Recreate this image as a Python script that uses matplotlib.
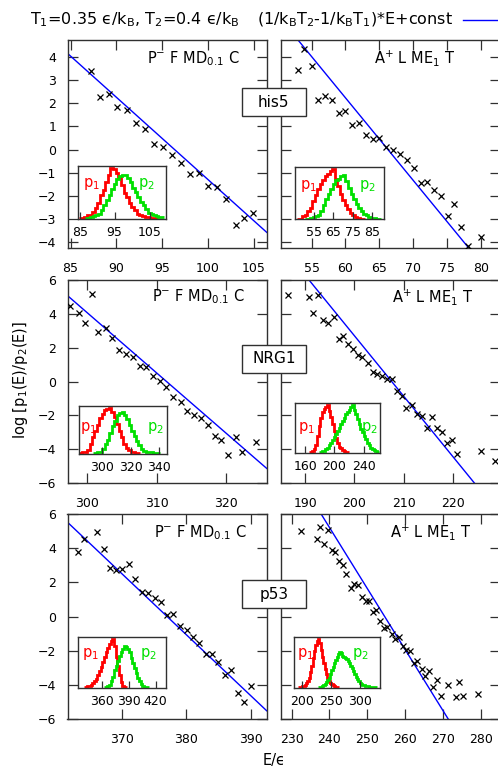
import matplotlib
matplotlib.use("Agg")
import matplotlib.pyplot as plt
import numpy as np
from matplotlib.lines import Line2D
from matplotlib.patches import Rectangle

W, H = 498, 770
plt.rcParams['font.family'] = ['DejaVu Sans']
plt.rcParams['font.size'] = 9
plt.rcParams['mathtext.fontset'] = 'dejavusans'

# ---------------- data ----------------
T1, T2 = 0.35, 0.4
slope = 1.0 / T2 - 1.0 / T1

proteins = ["his5", "NRG1", "p53"]
label_left = r"P$^{-}$ F MD$_{0.1}$ C"
label_right = r"A$^{+}$ L ME$_{1}$ T"

# fit constants (y = slope*E + const)
fit_const = [34.41, 23.67, 111.22, 74.14, 134.66, 90.93]

# scatter: log(p1/p2) vs E
tl_E = [87.2, 88.2, 89.2, 90.1, 91.15, 92.1, 93.1, 94.1, 95.1, 96.05, 97.0, 98.0, 99.0, 100.0, 101.0, 102.0, 103.0, 103.9, 104.9]
tl_y = [3.40, 2.29, 2.39, 1.84, 1.71, 1.14, 0.91, 0.23, 0.09, -0.23, -0.58, -1.06, -1.02, -1.57, -1.61, -2.14, -3.29, -2.95, -2.76]

tr_E = [53.0, 53.9, 55.0, 56.0, 57.0, 58.0, 59.0, 60.0, 61.0, 62.0, 63.0, 64.0, 65.0, 66.0, 67.0, 68.1, 69.1, 70.1, 71.1, 72.1, 73.1, 74.1, 75.1, 76.1, 77.1, 78.1, 80.05]
tr_y = [3.45, 4.36, 3.64, 2.16, 2.30, 2.14, 1.58, 1.67, 1.07, 1.17, 0.61, 0.46, 0.51, 0.09, 0.0, -0.20, -0.45, -0.78, -1.43, -1.41, -1.77, -2.00, -2.88, -2.35, -3.36, -4.19, -3.80]

ml_E = [297.6, 298.8, 299.7, 300.7, 301.6, 302.7, 303.6, 304.6, 305.6, 306.6, 307.6, 308.5, 309.5, 310.5, 311.4, 312.4, 313.5, 314.4, 315.4, 316.4, 317.4, 318.4, 319.3, 320.3, 321.4, 322.3, 324.3]
ml_y = [4.47, 4.07, 3.43, 5.16, 2.95, 3.19, 2.60, 1.87, 1.61, 1.42, 0.89, 0.87, 0.31, 0.04, -0.31, -0.94, -1.20, -1.77, -1.99, -2.17, -2.58, -3.21, -3.46, -4.33, -3.31, -4.15, -3.56]

mr_E = [186.6, 190.7, 191.7, 192.7, 193.7, 194.7, 195.8, 196.8, 197.7, 198.8, 199.7, 200.7, 201.5, 202.7, 203.7, 204.7, 205.6, 206.6, 207.7, 208.6, 209.6, 210.6, 211.7, 212.7, 213.7, 214.7, 215.8, 216.7, 217.8, 218.8, 219.8, 220.8, 225.7, 228.6]
mr_y = [5.10, 5.00, 4.02, 5.12, 3.62, 3.44, 3.82, 2.50, 2.70, 2.24, 1.91, 1.57, 1.46, 1.12, 0.59, 0.47, 0.30, 0.14, 0.14, -0.59, -0.85, -1.57, -1.38, -1.93, -2.03, -2.72, -2.07, -2.76, -3.01, -3.66, -3.46, -4.29, -4.09, -4.69]

bl_E = [363.2, 364.2, 366.1, 367.2, 368.2, 369.1, 370.1, 371.1, 372.1, 373.1, 374.1, 375.1, 376.1, 377.1, 378.0, 379.0, 380.1, 381.0, 382.0, 383.1, 384.0, 385.0, 386.0, 386.95, 388.0, 389.0, 390.05]
bl_y = [3.78, 4.53, 4.96, 3.98, 2.83, 2.74, 2.80, 3.09, 2.20, 1.46, 1.36, 1.06, 0.83, 0.08, 0.14, -0.55, -0.81, -1.18, -1.57, -2.19, -2.19, -2.68, -3.44, -3.11, -4.45, -4.98, -4.09]

br_E = [232.6, 236.6, 237.5, 238.6, 239.5, 240.6, 241.6, 242.5, 243.5, 244.5, 245.6, 246.6, 247.5, 248.7, 249.7, 250.5, 251.4, 252.3, 253.4, 254.5, 255.3, 256.5, 257.3, 258.5, 259.4, 260.2, 261.3, 262.4, 263.2, 264.4, 265.3, 266.4, 267.3, 268.4, 269.4, 271.4, 273.4, 274.3, 275.2, 279.4]
br_y = [5.00, 4.51, 5.22, 4.23, 5.06, 3.88, 3.78, 3.23, 3.03, 2.46, 1.67, 1.91, 1.85, 1.16, 0.89, 0.93, 0.24, 0.37, -0.26, -0.69, -0.61, -1.00, -1.34, -1.20, -1.73, -1.99, -2.03, -2.72, -2.62, -3.05, -3.50, -3.17, -4.11, -3.70, -4.65, -4.00, -4.72, -3.86, -4.65, -4.55]

# histograms (inset): start energy, bin width, relative heights
tl_p1_start, tl_p1_w = 84.8, 0.75
tl_p1 = [0, 0, 0.02, 0.05, 0.05, 0.12, 0.2, 0.3, 0.45, 0.55, 0.72, 0.85, 1.0, 0.98, 0.9, 0.82, 0.65, 0.5, 0.42, 0.3, 0.22, 0.15, 0.08, 0.06, 0.03, 0.02, 0.01, 0, 0, 0]
tl_p2_start, tl_p2_w = 86.5, 0.75
tl_p2 = [0, 0, 0.02, 0.03, 0.05, 0.08, 0.15, 0.25, 0.35, 0.45, 0.58, 0.68, 0.78, 0.83, 0.86, 0.86, 0.8, 0.72, 0.6, 0.52, 0.42, 0.32, 0.25, 0.17, 0.1, 0.07, 0.05, 0.03, 0.02, 0.01]

tr_p1_start, tr_p1_w = 46.4, 1.29
tr_p1 = [0, 0, 0.05, 0.08, 0.15, 0.22, 0.35, 0.48, 0.6, 0.7, 0.78, 0.85, 0.9, 0.95, 1.0, 0.8, 0.65, 0.5, 0.38, 0.28, 0.2, 0.12, 0.07, 0.04, 0.02, 0, 0]
tr_p2_start, tr_p2_w = 50.7, 1.29
tr_p2 = [0, 0, 0.02, 0.03, 0.05, 0.08, 0.15, 0.28, 0.4, 0.5, 0.6, 0.7, 0.78, 0.8, 0.86, 0.88, 0.75, 0.62, 0.5, 0.4, 0.3, 0.22, 0.15, 0.1, 0.07, 0.04, 0.02, 0.01, 0, 0]

ml_p1_start, ml_p1_w = 282.5, 1.7
ml_p1 = [0, 0, 0.02, 0.04, 0.08, 0.2, 0.35, 0.5, 0.62, 0.78, 0.88, 0.95, 0.98, 1.0, 0.92, 0.8, 0.65, 0.5, 0.35, 0.2, 0.12, 0.07, 0.04, 0.02, 0, 0]
ml_p2_start, ml_p2_w = 293.1, 1.7
ml_p2 = [0, 0, 0.02, 0.04, 0.1, 0.2, 0.3, 0.45, 0.6, 0.72, 0.85, 0.9, 0.92, 0.85, 0.75, 0.62, 0.5, 0.38, 0.28, 0.18, 0.1, 0.06, 0.04, 0.02, 0.02, 0.01, 0, 0]

mr_p1_start, mr_p1_w = 164.5, 2.29
mr_p1 = [0, 0, 0.03, 0.06, 0.15, 0.35, 0.55, 0.72, 0.85, 0.92, 0.95, 1.0, 0.88, 0.75, 0.6, 0.45, 0.3, 0.2, 0.12, 0.08, 0.04, 0.02, 0, 0]
mr_p2_start, mr_p2_w = 178.3, 2.29
mr_p2 = [0, 0, 0.02, 0.03, 0.06, 0.1, 0.15, 0.2, 0.26, 0.32, 0.38, 0.45, 0.52, 0.6, 0.66, 0.72, 0.8, 0.85, 0.9, 0.95, 1.0, 0.9, 0.8, 0.7, 0.6, 0.5, 0.42, 0.34, 0.27, 0.2, 0.15, 0.1, 0.06, 0.04, 0.02, 0.01]

bl_p1_start, bl_p1_w = 339.4, 1.87
bl_p1 = [0, 0, 0.02, 0.03, 0.05, 0.08, 0.12, 0.18, 0.25, 0.33, 0.42, 0.52, 0.62, 0.72, 0.82, 0.9, 0.96, 1.0, 0.85, 0.62, 0.45, 0.25, 0.1, 0.03, 0, 0]
bl_p2_start, bl_p2_w = 361.9, 1.87
bl_p2 = [0, 0, 0.02, 0.05, 0.12, 0.22, 0.35, 0.45, 0.55, 0.65, 0.72, 0.8, 0.85, 0.83, 0.8, 0.72, 0.6, 0.5, 0.4, 0.3, 0.2, 0.12, 0.07, 0.03, 0.01, 0, 0]

br_p1_start, br_p1_w = 193.4, 2.3
br_p1 = [0, 0, 0.01, 0.02, 0.03, 0.05, 0.08, 0.12, 0.2, 0.32, 0.45, 0.6, 0.75, 0.88, 0.95, 1.0, 0.92, 0.78, 0.62, 0.5, 0.38, 0.28, 0.2, 0.14, 0.09, 0.06, 0.04, 0.02, 0.01, 0, 0]
br_p2_start, br_p2_w = 228.0, 2.3
br_p2 = [0, 0, 0.01, 0.02, 0.04, 0.07, 0.1, 0.15, 0.2, 0.27, 0.35, 0.42, 0.5, 0.57, 0.63, 0.68, 0.72, 0.7, 0.65, 0.62, 0.6, 0.58, 0.55, 0.5, 0.45, 0.4, 0.34, 0.28, 0.22, 0.17, 0.12, 0.09, 0.07, 0.05, 0.04, 0.03, 0.02, 0.02, 0.01, 0.01, 0.01, 0.01, 0, 0]

# axis setup
xlims = [(84.67, 106.4), (50.46, 82.86), (297.2, 325.8), (185.1, 229.6), (361.6, 392.5), (227.2, 285.1)]
ylims = [(-4.27, 4.75), (-4.27, 4.75), (-6, 6), (-6, 6), (-6, 6), (-6, 6)]
xticks = [[85, 90, 95, 100, 105], [55, 60, 65, 70, 75, 80], [300, 310, 320],
          [190, 200, 210, 220], [370, 380, 390], [230, 240, 250, 260, 270, 280]]
yticks = [list(range(-4, 5)), list(range(-4, 5)), list(range(-6, 7, 2)), list(range(-6, 7, 2)),
          list(range(-6, 7, 2)), list(range(-6, 7, 2))]
inset_xlims = [(84.5, 109.6), (45.2, 91.0), (283.5, 345.4), (145.4, 262.9), (332.7, 431.2), (186.9, 334.3)]
inset_xticks = [[85, 95, 105], [55, 65, 75, 85], [300, 320, 340], [160, 200, 240], [360, 390, 420], [200, 250, 300]]

scatter_E = [tl_E, tr_E, ml_E, mr_E, bl_E, br_E]
scatter_y = [tl_y, tr_y, ml_y, mr_y, bl_y, br_y]
hist_p1 = [(tl_p1_start, tl_p1_w, tl_p1), (tr_p1_start, tr_p1_w, tr_p1), (ml_p1_start, ml_p1_w, ml_p1),
           (mr_p1_start, mr_p1_w, mr_p1), (bl_p1_start, bl_p1_w, bl_p1), (br_p1_start, br_p1_w, br_p1)]
hist_p2 = [(tl_p2_start, tl_p2_w, tl_p2), (tr_p2_start, tr_p2_w, tr_p2), (ml_p2_start, ml_p2_w, ml_p2),
           (mr_p2_start, mr_p2_w, mr_p2), (bl_p2_start, bl_p2_w, bl_p2), (br_p2_start, br_p2_w, br_p2)]

# ---------------- layout (pixel boxes) ----------------
main_boxes = [(67.5, 40, 266.7, 248), (281, 40, 500, 248),
              (67.5, 280, 266.7, 483), (281, 280, 500, 483),
              (67.5, 514, 266.7, 719), (281, 514, 500, 719)]
inset_boxes = [(78, 166, 165.7, 218.7), (294.7, 167, 383.7, 219.3),
               (79, 406.3, 166.7, 454), (294.7, 403, 380.3, 453),
               (78, 637, 165.7, 688), (294, 637, 380, 688)]
p_label_pos = [((0.15, 0.66), (0.775, 0.66)), ((0.15, 0.64), (0.82, 0.64)),
               ((0.11, 0.55), (0.87, 0.55)), ((0.14, 0.5), (0.87, 0.5)),
               ((0.14, 0.67), (0.80, 0.67)), ((0.13, 0.67), (0.77, 0.67))]
panel_label_pos = [(239.5, 58.5), (455, 58.5), (245, 297), (473, 297), (246.7, 532.5), (471.7, 532)]
name_box_rows = [(88.3, 116), (345, 372.7), (580, 608)]

RED = '#ff0000'
GREEN = '#00e000'
BLUE = '#0000ff'
SPINE = '#303030'

fig = plt.figure(figsize=(W / 100, H / 100), dpi=100)


def frac(b):
    x0, y0, x1, y1 = b
    return [x0 / W, 1 - y1 / H, (x1 - x0) / W, (y1 - y0) / H]


for i in range(6):
    ax = fig.add_axes(frac(main_boxes[i]))
    ax.set_xlim(*xlims[i])
    ax.set_ylim(*ylims[i])
    ax.set_xticks(xticks[i])
    ax.set_yticks(yticks[i])
    ax.tick_params(direction='in', length=7, width=0.9, color=SPINE,
                   top=True, right=True, labelsize=9)
    ax.tick_params(axis='x', pad=10)
    ax.tick_params(axis='y', pad=8)
    if i % 2 == 1:
        ax.set_yticklabels([])
    for s in ax.spines.values():
        s.set_color(SPINE)
        s.set_linewidth(1.0)
    ax.axline((0, fit_const[i]), slope=slope, color=BLUE, lw=1.0, zorder=2)
    ax.plot(scatter_E[i], scatter_y[i], ls='none', marker='x', ms=4.5, mew=0.9,
            color='black', zorder=3)

    # inset
    ia = fig.add_axes(frac(inset_boxes[i]))
    ia.set_facecolor('white')
    for (start, w, h), col in ((hist_p1[i], RED), (hist_p2[i], GREEN)):
        h = np.asarray(h, dtype=float)
        edges = start + w * np.arange(len(h) + 1)
        ia.stairs(h, edges, color=col, lw=2.0, baseline=None)
    ia.set_xlim(*inset_xlims[i])
    ia.set_ylim(-0.015, 1.04)
    ia.set_xticks(inset_xticks[i])
    ia.set_yticks([])
    ia.tick_params(axis='x', direction='in', length=5, width=0.9, color=SPINE,
                   pad=5, labelsize=9)
    for s in ia.spines.values():
        s.set_color(SPINE)
        s.set_linewidth(1.0)
    (p1x, p1y), (p2x, p2y) = p_label_pos[i]
    ia.text(p1x, p1y, r"p$_1$", color=RED, fontsize=10.5, ha='center', va='center',
            transform=ia.transAxes)
    ia.text(p2x, p2y, r"p$_2$", color=GREEN, fontsize=10.5, ha='center', va='center',
            transform=ia.transAxes)

    lx, ly = panel_label_pos[i]
    fig.text(lx / W, 1 - ly / H, label_left if i % 2 == 0 else label_right,
             ha='right', va='center', fontsize=10.5)

# protein name boxes
for name, (y0, y1) in zip(proteins, name_box_rows):
    x0, x1 = 241.7, 306
    fig.patches.append(Rectangle((x0 / W, 1 - y1 / H), (x1 - x0) / W, (y1 - y0) / H,
                                 transform=fig.transFigure, facecolor='white',
                                 edgecolor=SPINE, lw=1.0, zorder=5))
    fig.text((x0 + x1) / 2 / W, 1 - (y0 + y1) / 2 / H, name, ha='center', va='center',
             fontsize=11, zorder=6)

# header
fig.text(30 / W, 1 - 20 / H, r"T$_1$=0.35 ϵ/k$_\mathrm{B}$, T$_2$=0.4 ϵ/k$_\mathrm{B}$",
         ha='left', va='center', fontsize=11.5)
fig.text(453 / W, 1 - 20 / H,
         r"(1/k$_\mathrm{B}$T$_2$-1/k$_\mathrm{B}$T$_1$)*E+const",
         ha='right', va='center', fontsize=11.5)
fig.lines.append(Line2D([463 / W, 500 / W], [1 - 19.5 / H, 1 - 19.5 / H],
                        transform=fig.transFigure, color=BLUE, lw=1.0))

# axis labels
fig.text(21 / W, 1 - 380 / H, r"log [p$_1$(E)/p$_2$(E)]", rotation=90,
         ha='center', va='center', fontsize=10.5)
fig.text(274 / W, 1 - 760 / H, "E/ϵ", ha='center', va='center', fontsize=10.5)

fig.savefig("out.png", dpi=100)
